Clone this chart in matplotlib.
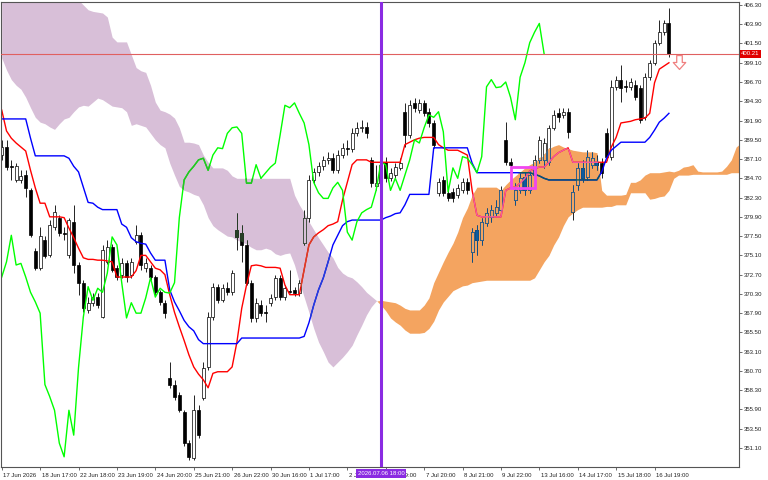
import numpy as np
import matplotlib
matplotlib.use('Agg')
import matplotlib.pyplot as plt
import matplotlib.colors as mcolors
import matplotlib.transforms as mtransforms
from matplotlib.path import Path
from matplotlib.patches import PathPatch, Rectangle
from matplotlib.collections import LineCollection

plt.rcParams['font.family'] = ['Liberation Sans', 'DejaVu Sans']

# ---- price bars (one per bar index) ----
opens = [
    387.6, 388.6, 386.2, 384.5, 384.5, 385.1, 383.2, 375.6, 373.5, 377.0,
    375.1, 378.6, 379.8, 377.9, 375.1, 379.3, 373.9, 371.7, 368.3, 369.2,
    369.9, 367.4, 374.3, 376.1, 373.5, 372.7, 374.1, 372.7, 376.8, 377.6,
    373.5, 373.5, 372.4, 370.5, 369.2, 359.8, 359.0, 357.7, 355.6, 351.7,
    349.8, 355.8, 357.3, 361.2, 367.4, 371.2, 369.5, 371.0, 370.5, 378.3,
    377.9, 376.4, 371.7, 367.3, 368.9, 368.0, 369.2, 369.9, 372.3, 369.9,
    370.7, 370.8, 370.4, 376.6, 379.8, 384.5, 385.5, 386.2, 387.0, 387.2,
    385.7, 387.6, 388.5, 388.4, 390.3, 391.0, 391.1, 387.0, 383.7, 384.1,
    386.7, 384.7, 385.1, 386.0, 393.0, 390.1, 394.1, 393.2, 394.1, 393.0,
    391.6, 382.9, 384.5, 382.9, 383.0, 382.6, 383.2, 384.2, 375.5, 378.3,
    377.0, 379.1, 379.9, 380.4, 380.8, 389.5, 386.7, 382.0, 383.2, 384.9,
    383.2, 385.1, 387.0, 387.0, 386.7, 391.0, 392.8, 392.6, 393.0, 380.5,
    383.9, 386.0, 384.9, 386.4, 386.7, 386.6, 390.3, 387.4, 396.1, 397.0,
    396.2, 396.1, 396.3, 396.0, 392.3, 397.3, 399.1, 401.6, 402.9, 404.0,
]
highs = [
    389.5, 389.5, 387.0, 386.6, 385.7, 385.7, 383.5, 376.0, 378.6, 377.5,
    379.5, 381.4, 380.1, 378.6, 379.8, 381.4, 374.3, 372.0, 369.9, 370.4,
    370.4, 376.4, 377.0, 376.5, 373.9, 374.8, 374.5, 374.8, 378.9, 378.0,
    374.8, 373.9, 372.7, 370.8, 369.5, 361.8, 359.6, 358.1, 355.8, 352.1,
    357.7, 356.5, 361.8, 368.0, 371.7, 371.5, 371.5, 371.8, 373.3, 380.4,
    378.9, 377.0, 372.0, 369.8, 369.5, 368.9, 370.3, 372.7, 372.7, 371.4,
    373.3, 371.2, 372.0, 380.8, 385.1, 386.0, 386.7, 387.5, 388.0, 387.9,
    388.2, 389.1, 389.5, 391.0, 391.7, 392.0, 391.7, 387.4, 386.4, 387.0,
    387.4, 386.0, 386.6, 387.2, 394.1, 394.5, 394.7, 394.6, 394.5, 393.5,
    392.0, 384.7, 385.0, 383.5, 383.5, 384.0, 384.7, 384.7, 378.5, 378.9,
    379.8, 381.0, 381.4, 382.0, 383.7, 391.7, 387.2, 384.1, 385.4, 385.5,
    385.7, 387.6, 390.0, 389.7, 391.3, 393.2, 393.5, 393.5, 393.5, 383.9,
    386.6, 387.0, 388.2, 388.0, 387.6, 387.2, 391.0, 397.0, 397.5, 398.8,
    397.0, 397.2, 397.0, 396.3, 397.8, 399.4, 401.9, 404.4, 404.4, 405.9,
]
lows = [
    387.0, 385.7, 384.5, 384.2, 384.1, 382.4, 377.4, 373.3, 373.3, 374.8,
    374.9, 378.3, 377.5, 377.0, 374.8, 372.9, 370.2, 368.0, 367.9, 368.8,
    368.5, 367.3, 374.0, 373.0, 372.0, 372.3, 371.8, 372.3, 376.5, 373.3,
    373.0, 372.0, 370.2, 368.9, 367.3, 358.6, 357.1, 355.6, 351.3, 349.6,
    349.6, 352.3, 357.1, 360.8, 367.0, 369.2, 369.3, 370.2, 370.2, 375.8,
    374.3, 371.4, 366.8, 366.8, 367.5, 366.8, 368.8, 369.5, 369.5, 369.5,
    370.4, 370.0, 370.0, 376.4, 379.3, 384.0, 385.0, 385.7, 386.5, 385.4,
    385.4, 387.2, 387.6, 388.0, 390.0, 390.5, 389.7, 383.6, 383.2, 383.7,
    384.2, 384.4, 384.7, 385.7, 388.6, 389.7, 393.0, 392.8, 392.5, 391.1,
    388.5, 382.5, 382.5, 381.9, 381.7, 382.2, 382.9, 382.7, 374.3, 375.1,
    376.4, 378.8, 379.3, 380.0, 380.4, 386.4, 386.0, 381.4, 382.9, 382.6,
    382.9, 384.7, 386.6, 386.0, 386.4, 390.7, 391.7, 392.2, 389.7, 379.5,
    383.2, 384.2, 384.5, 386.0, 385.7, 384.7, 387.0, 387.0, 395.7, 394.2,
    395.5, 395.7, 394.5, 391.6, 392.0, 397.0, 398.8, 401.3, 402.6, 399.8,
]
closes = [
    388.6, 386.1, 386.1, 386.2, 385.0, 383.5, 377.6, 373.5, 377.5, 375.0,
    378.9, 380.5, 377.9, 377.8, 379.5, 373.9, 371.7, 368.5, 369.2, 369.9,
    368.9, 375.8, 376.1, 373.3, 372.4, 374.1, 372.4, 374.3, 377.6, 373.9,
    374.1, 372.4, 370.5, 369.3, 367.9, 359.0, 357.5, 355.8, 351.7, 350.0,
    355.8, 352.7, 361.1, 367.4, 371.2, 369.5, 371.0, 370.5, 372.9, 377.4,
    376.4, 371.7, 367.3, 369.2, 367.9, 367.9, 369.8, 372.3, 369.9, 371.0,
    370.5, 370.4, 371.7, 379.8, 384.5, 385.5, 386.2, 387.0, 387.2, 385.7,
    387.6, 388.5, 388.4, 390.3, 391.0, 391.1, 390.3, 384.1, 384.1, 386.4,
    384.7, 385.4, 386.1, 386.6, 390.1, 393.8, 393.5, 394.1, 392.8, 391.6,
    388.9, 384.2, 382.9, 382.2, 382.2, 383.5, 384.2, 383.2, 378.0, 377.0,
    379.3, 380.4, 380.8, 381.1, 383.2, 386.7, 386.4, 383.2, 384.7, 383.2,
    385.1, 387.0, 389.5, 389.1, 391.0, 392.6, 392.3, 393.0, 390.5, 383.0,
    386.0, 384.7, 387.4, 387.2, 386.4, 385.4, 387.4, 396.1, 397.0, 396.0,
    396.1, 396.7, 394.8, 392.0, 397.3, 399.1, 401.6, 402.9, 404.0, 400.21,
]

# ---- Ichimoku lines ----
tenkan = [
    393.2, 390.6, 389.7, 389.1, 388.6, 388.1, 385.7, 383.5, 381.6, 381.6,
    379.9, 379.9, 379.9, 379.8, 378.5, 377.3, 376.0, 374.8, 374.6, 374.6,
    374.5, 374.5, 374.4, 374.3, 372.4, 372.4, 372.4, 372.4, 373.2, 375.1,
    375.1, 374.3, 373.5, 373.3, 372.7, 370.2, 368.0, 366.2, 364.5, 362.7,
    361.2, 360.3, 359.6, 358.6, 360.4, 360.6, 360.6, 360.6, 361.2, 364.3,
    368.5, 371.4, 373.8, 373.9, 373.8, 373.6, 373.6, 373.6, 373.5, 371.4,
    370.2, 370.2, 370.2, 373.3, 376.4, 377.4, 377.9, 378.3, 378.8, 379.0,
    379.3, 382.0, 384.2, 386.4, 387.0, 387.0, 387.0, 386.7, 386.7, 386.7,
    386.7, 386.7, 386.7, 386.7, 388.9, 389.2, 389.5, 389.7, 389.8, 389.8,
    389.8, 388.9, 388.5, 388.2, 388.2, 388.2, 387.9, 387.6, 383.2, 380.1,
    379.9, 379.9, 379.9, 379.9, 379.9, 383.2, 383.5, 383.6, 384.1, 384.7,
    385.6, 385.9, 386.1, 386.1, 386.7, 387.4, 387.9, 388.2, 388.5, 386.7,
    386.7, 386.7, 386.7, 386.7, 386.7, 386.7, 386.7, 388.6, 389.8, 391.6,
    391.7, 391.8, 392.0, 392.1, 392.2, 392.8, 396.6, 398.3, 398.7, 399.1,
]
kijun = [
    392.1, 392.1, 392.1, 392.1, 392.1, 392.1, 389.7, 387.5, 387.5, 387.5,
    387.5, 387.5, 387.5, 387.5, 387.2, 386.2, 385.5, 383.6, 381.7, 381.6,
    381.1, 380.8, 380.8, 380.8, 380.8, 379.0, 378.6, 377.3, 376.8, 376.6,
    376.5, 375.4, 374.5, 374.5, 374.5, 370.8, 369.3, 368.2, 367.0, 366.2,
    365.7, 364.6, 364.1, 364.1, 364.1, 364.1, 364.1, 364.1, 364.1, 364.1,
    364.8, 364.8, 364.8, 364.8, 364.8, 364.8, 364.8, 364.8, 364.8, 364.8,
    364.8, 364.8, 364.8, 365.0, 366.7, 368.9, 370.8, 372.3, 374.3, 376.4,
    377.6, 378.8, 379.3, 379.5, 379.5, 379.5, 379.5, 379.5, 379.5, 379.5,
    379.8, 380.0, 380.3, 380.4, 381.4, 382.7, 382.7, 382.7, 382.7, 382.7,
    388.5, 388.5, 388.5, 388.5, 388.5, 388.5, 388.5, 388.5, 386.6, 385.4,
    385.4, 385.4, 385.4, 385.4, 385.4, 385.4, 385.4, 385.4, 385.4, 385.4,
    385.4, 385.2, 385.0, 384.7, 384.5, 384.5, 384.5, 384.5, 384.5, 384.5,
    384.5, 384.5, 384.5, 384.5, 384.5, 385.5, 387.2, 388.2, 388.7, 389.2,
    389.2, 389.2, 389.2, 389.2, 389.2, 389.8, 390.7, 391.7, 392.2, 392.8,
]
# senkou spans, already shifted 26 bars ahead
span_a = [
    399.7, 398.2, 397.0, 396.3, 395.8, 394.8, 393.5, 392.3, 391.7, 391.5,
    391.1, 390.8, 391.5, 392.1, 392.3, 393.0, 393.6, 393.8, 393.7, 394.2,
    394.7, 394.5, 394.1, 393.7, 393.6, 393.5, 393.0, 391.3, 391.5, 391.3,
    391.1, 390.3, 389.5, 388.9, 388.5, 386.6, 385.1, 383.7, 383.2, 383.0,
    382.7, 382.5, 381.4, 379.8, 378.8, 378.3, 377.9, 377.5, 377.4, 377.0,
    376.8, 376.5, 376.1, 375.8, 375.8, 376.0, 375.8, 375.3, 375.1, 375.3,
    375.4, 373.9, 371.8, 369.9, 368.0, 366.0, 364.3, 363.1, 361.8, 361.2,
    361.8, 362.4, 363.1, 363.9, 365.2, 366.4, 367.7, 368.7, 369.4, 369.5,
    369.4, 369.3, 369.2, 368.9, 368.5, 368.3, 368.3, 368.3, 368.9, 369.8,
    371.7, 373.0, 374.3, 375.5, 376.6, 378.0, 379.8, 381.0, 382.6, 383.6,
    383.6, 383.6, 383.6, 383.6, 383.2, 383.9, 384.5, 385.0, 385.5, 386.0,
    386.4, 386.7, 387.2, 387.6, 388.4, 388.7, 388.9, 388.6, 388.4, 388.2,
    388.1, 388.0, 388.0, 388.0, 387.9, 383.2, 382.6, 382.6, 382.6, 382.6,
    382.7, 384.2, 384.2, 384.5, 385.1, 385.4, 385.4, 385.4, 385.5, 385.6,
    385.5, 385.7, 386.1, 386.2, 386.4, 385.6, 385.5, 385.5, 385.5, 385.5,
    385.6, 386.2, 387.0, 388.6, 389.1,
]
span_b = [
    409.4, 409.4, 409.4, 409.4, 409.4, 409.4, 409.4, 409.4, 409.4, 409.4,
    409.4, 408.8, 408.8, 408.2, 407.9, 407.5, 406.9, 406.3, 405.7, 405.5,
    405.4, 405.3, 404.8, 402.3, 401.7, 401.7, 401.7, 400.1, 398.5, 398.1,
    397.9, 396.3, 394.2, 393.2, 393.0, 392.7, 392.2, 391.0, 389.2, 389.2,
    389.1, 388.9, 387.6, 386.7, 386.0, 386.0, 386.0, 385.7, 385.0, 384.7,
    384.7, 384.7, 384.7, 384.7, 384.7, 384.7, 384.7, 384.7, 384.7, 384.7,
    384.7, 382.6, 381.4, 380.4, 379.3, 378.3, 377.3, 376.4, 375.5, 374.8,
    373.6, 372.9, 372.5, 372.3, 371.8, 371.2, 370.5, 370.0, 369.5, 368.9,
    368.2, 367.3, 366.8, 366.4, 365.8, 365.4, 365.4, 365.4, 365.5, 366.0,
    366.9, 368.3, 369.3, 370.0, 370.7, 371.0, 371.3, 371.4, 371.7, 371.8,
    371.9, 372.0, 372.0, 372.0, 372.0, 372.0, 372.0, 372.0, 372.0, 372.0,
    372.0, 372.3, 373.3, 374.3, 375.1, 376.4, 377.4, 378.8, 379.9, 380.4,
    380.8, 381.1, 381.1, 381.1, 381.1, 381.1, 381.2, 381.2, 381.4, 381.4,
    381.4, 382.9, 382.9, 382.9, 382.9, 382.1, 382.2, 382.4, 382.5, 383.2,
    384.7, 385.1, 385.1, 385.1, 385.2, 385.2, 385.2, 385.2, 385.2, 385.2,
    385.2, 385.2, 385.4, 385.4, 385.4,
]
chikou_shift = 26

# ---- axis labels ----
x_tick_bars = [0, 8, 16, 24, 32, 40, 48, 56, 64, 72, 80, 88, 96, 104, 112, 120, 128, 136]
x_tick_labels = ['17 Jun 2026', '18 Jun 17:00', '22 Jun 18:00', '23 Jun 19:00', '24 Jun 20:00',
                 '25 Jun 21:00', '26 Jun 22:00', '30 Jun 16:00', '1 Jul 17:00', '2 Jul 18:00',
                 '6 Jul 19:00', '7 Jul 20:00', '8 Jul 21:00', '9 Jul 22:00', '13 Jul 16:00',
                 '14 Jul 17:00', '15 Jul 18:00', '16 Jul 19:00']
y_ticks = [406.30, 403.90, 401.50, 399.10, 396.70, 394.30, 391.90, 389.50, 387.10, 384.70,
           382.30, 379.90, 377.50, 375.10, 372.70, 370.30, 367.90, 365.50, 363.10, 360.70,
           358.30, 355.90, 353.50, 351.10]

last_price = 400.21
vline_bar = 79
vline_label = '2026.07.06 18:00'
box_bars = (106, 111)
box_prices = (383.5, 386.05)
signal_bar = 141
signal_price = 399.2

SANDY = '#F4A460'
THISTLE = '#D8BFD8'

opens, highs, lows, closes = map(np.array, (opens, highs, lows, closes))
tenkan, kijun = np.array(tenkan), np.array(kijun)
span_a, span_b = np.array(span_a), np.array(span_b)
x = np.arange(len(closes))
xs = np.arange(len(span_a))

fig = plt.figure(figsize=(7.68, 4.8), dpi=100, facecolor='white')
ax = fig.add_axes([1 / 768, 13 / 480, 738 / 768, 465 / 480])
ax.set_facecolor('white')
ax.set_xlim(-0.15, 153.6)
ax.set_ylim(348.73, 406.67)

# cloud
fb_lilac = ax.fill_between(xs, span_a, span_b, where=span_b >= span_a, interpolate=True,
                           color=THISTLE, lw=0, zorder=1)
fb_sand = ax.fill_between(xs, span_a, span_b, where=span_a > span_b, interpolate=True,
                          color=SANDY, lw=0, zorder=1)


def xor_with(cloud):
    # MT5 draws the cloud inverted over whatever lies below it
    inv = 255 - np.round(np.array(mcolors.to_rgb(cloud)) * 255).astype(int)

    def f(c):
        rgb = np.round(np.array(mcolors.to_rgb(c)) * 255).astype(int)
        return tuple(np.bitwise_xor(rgb, inv) / 255)
    return f


def clip_of(coll):
    return PathPatch(Path.make_compound_path(*coll.get_paths()), transform=ax.transData)


def draw_layer(col, clip=None, z=2):
    segs = [[(i, lows[i]), (i, highs[i])] for i in x]
    wicks = LineCollection(segs, colors=[col('#000000')], linewidths=0.6, zorder=z)
    ax.add_collection(wicks)
    bottoms = np.minimum(opens, closes)
    heights = np.maximum(np.abs(closes - opens), 0.08)
    faces = [col('#FFFFFF') if c > o else col('#000000') for o, c in zip(opens, closes)]
    bars = ax.bar(x, heights, bottom=bottoms, width=0.6, color=faces,
                  edgecolor=col('#000000'), linewidth=0.5, zorder=z + 0.1)
    l1, = ax.plot(x, tenkan, color=col('#FF0000'), lw=1.0, zorder=z + 0.2)
    l2, = ax.plot(x, kijun, color=col('#0000FF'), lw=1.0, zorder=z + 0.3)
    l3, = ax.plot(x[:-chikou_shift], closes[chikou_shift:], color=col('#00FF00'),
                  lw=1.0, zorder=z + 0.4)
    if clip is not None:
        for a in [wicks, *bars.patches, l1, l2, l3]:
            a.set_clip_path(clip)


draw_layer(lambda c: c, None, 2)
draw_layer(xor_with(THISTLE), clip_of(fb_lilac), 4)
draw_layer(xor_with(SANDY), clip_of(fb_sand), 4)

# objects on the chart
ax.axhline(last_price, color='#E06060', lw=0.8, zorder=8)
ax.axvline(vline_bar, color='#8A2BE2', lw=2.2, zorder=9)
ax.add_patch(Rectangle((box_bars[0], box_prices[0]), box_bars[1] - box_bars[0],
                       box_prices[1] - box_prices[0], fill=False, ec='#F046F0', lw=2.0, zorder=9))
arrow = Path([(-0.2, 0.5), (0.2, 0.5), (0.2, 0.0), (0.45, 0.0), (0.0, -0.5),
              (-0.45, 0.0), (-0.2, 0.0), (-0.2, 0.5)], closed=True)
ax.plot([signal_bar], [signal_price], marker=arrow, ms=10, mfc='white', mec='#F08080',
        mew=0.9, ls='none', zorder=10)

# axes styling
for sp in ax.spines.values():
    sp.set_color('#555555')
    sp.set_linewidth(0.8)
ax.yaxis.tick_right()
ax.set_yticks(y_ticks)
ax.set_yticklabels([f'{v:.2f}' for v in y_ticks])
ax.tick_params(axis='y', length=2.5, width=0.6, colors='#555555', labelcolor='#222222',
               labelsize=4.3, pad=1.2)
ax.set_xticks(x_tick_bars)
ax.set_xticklabels(x_tick_labels, ha='left')
ax.tick_params(axis='x', length=2.5, width=0.6, colors='#555555', labelcolor='#222222',
               labelsize=4.3, pad=1.5)
shift = mtransforms.ScaledTranslation(1.5 / 100, 0, fig.dpi_scale_trans)
for lbl in ax.get_xticklabels():
    lbl.set_transform(lbl.get_transform() + shift)

vlabel = ax.text(vline_bar, -0.0135, vline_label,
                 transform=mtransforms.blended_transform_factory(ax.transData, ax.transAxes),
                 ha='center', va='center', fontsize=4.3, color='white', zorder=12, clip_on=False,
                 bbox=dict(boxstyle='square,pad=0.3', fc='#8A2BE2', ec='none'))

# the date labels next to the vertical-line label are partly hidden by it
fig.canvas.draw()
box = vlabel.get_bbox_patch().get_window_extent()
for lbl in ax.get_xticklabels():
    ext = lbl.get_window_extent()
    if ext.x1 > box.x0 and ext.x0 < box.x0:
        lbl.set_clip_box(mtransforms.Bbox.from_extents(0, 0, box.x0, fig.bbox.height))
        lbl.set_clip_on(True)
    elif ext.x0 < box.x1 and ext.x1 > box.x1:
        lbl.set_clip_box(mtransforms.Bbox.from_extents(box.x1, 0, fig.bbox.width, fig.bbox.height))
        lbl.set_clip_on(True)

ax.text(1.003, last_price, f'{last_price:.2f}',
        transform=mtransforms.blended_transform_factory(ax.transAxes, ax.transData),
        ha='left', va='center', fontsize=4.3, color='white', zorder=12, clip_on=False,
        bbox=dict(boxstyle='square,pad=0.25', fc='#E00000', ec='none'))

fig.savefig('out.png', dpi=100, facecolor='white')
